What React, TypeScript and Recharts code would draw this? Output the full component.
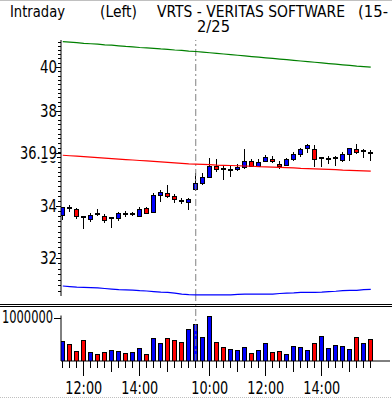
import React from 'react';
import { ComposedChart, Bar, Line, XAxis, YAxis, ReferenceLine } from 'recharts';

// 15-minute bars, two sessions
const times = [
  '11:15', '11:30', '11:45', '12:00', '12:15', '12:30', '12:45', '13:00', '13:15', '13:30',
  '13:45', '14:00', '14:15', '14:30', '14:45', '15:00', '15:15', '15:30', '15:45',
  '9:30', '9:45', '10:00', '10:15', '10:30', '10:45', '11:00', '11:15', '11:30', '11:45',
  '12:00', '12:15', '12:30', '12:45', '13:00', '13:15', '13:30', '13:45', '14:00', '14:15',
  '14:30', '14:45', '15:00', '15:15', '15:30', '15:45',
];

const opens = [
  33.63, 33.94, 33.89, 33.55, 33.5, 33.68, 33.6, 33.52, 33.54, 33.69,
  33.69, 33.62, 33.94, 33.78, 34.45, 34.54, 34.4, 34.2, 34.17,
  34.67, 34.94, 35.19, 35.63, 35.51, 35.47, 35.5, 35.6, 35.85, 35.64,
  35.85, 35.93, 35.73, 35.66, 35.92, 36.14, 36.37, 36.33, 35.96, 35.92,
  35.95, 35.88, 36.14, 36.33, 36.27, 36.19,
];
const highs = [
  33.97, 34.04, 33.93, 33.61, 33.72, 33.89, 33.68, 33.58, 33.77, 33.8,
  33.77, 33.98, 33.98, 34.54, 34.65, 34.84, 34.5, 34.31, 34.31,
  35.36, 35.36, 35.95, 35.91, 35.63, 35.63, 35.71, 36.33, 35.91, 35.91,
  36.09, 36.05, 35.84, 35.95, 36.2, 36.37, 36.56, 36.52, 36.02, 36.05,
  36.06, 36.23, 36.4, 36.55, 36.33, 36.3,
];
const lows = [
  33.45, 33.75, 33.49, 33.12, 33.38, 33.61, 33.35, 33.13, 33.42, 33.58,
  33.61, 33.56, 33.68, 33.72, 34.16, 34.31, 34.11, 34.08, 33.85,
  34.61, 34.85, 35.16, 35.4, 35.05, 35.16, 35.44, 35.5, 35.6, 35.6,
  35.79, 35.74, 35.49, 35.63, 35.85, 36.02, 36.17, 35.57, 35.59, 35.7,
  35.63, 35.81, 35.85, 36.12, 35.97, 35.85,
];
const closes = [
  33.95, 33.94, 33.61, 33.55, 33.65, 33.68, 33.46, 33.52, 33.72, 33.69,
  33.69, 33.9, 33.74, 34.43, 34.55, 34.42, 34.27, 34.2, 34.27,
  34.93, 35.16, 35.64, 35.5, 35.51, 35.47, 35.6, 35.85, 35.64, 35.81,
  35.99, 35.82, 35.62, 35.91, 36.13, 36.33, 36.5, 35.92, 35.96, 35.92,
  35.95, 36.12, 36.37, 36.2, 36.27, 36.19,
];

const upperBand = [
  41.2, 41.18, 41.15, 41.12, 41.1, 41.08, 41.05, 41.03, 41.0, 40.97,
  40.95, 40.92, 40.9, 40.88, 40.85, 40.83, 40.8, 40.78, 40.75,
  40.73, 40.7, 40.67, 40.64, 40.61, 40.58, 40.55, 40.52, 40.49, 40.46,
  40.43, 40.4, 40.37, 40.34, 40.31, 40.28, 40.25, 40.22, 40.19, 40.16,
  40.13, 40.1, 40.07, 40.04, 40.02, 39.99,
];
const midBand = [
  36.08, 36.06, 36.04, 36.02, 36.0, 35.98, 35.96, 35.94, 35.92, 35.9,
  35.88, 35.86, 35.84, 35.82, 35.8, 35.78, 35.76, 35.74, 35.72,
  35.71, 35.7, 35.69, 35.67, 35.66, 35.65, 35.64, 35.63, 35.62, 35.6,
  35.59, 35.58, 35.57, 35.56, 35.55, 35.53, 35.52, 35.51, 35.5, 35.49,
  35.48, 35.46, 35.45, 35.44, 35.43, 35.42,
];
const lowerBand = [
  30.97, 30.95, 30.93, 30.92, 30.91, 30.9, 30.88, 30.86, 30.84, 30.83,
  30.82, 30.8, 30.79, 30.77, 30.75, 30.74, 30.71, 30.68, 30.66,
  30.65, 30.65, 30.65, 30.65, 30.65, 30.65, 30.67, 30.68, 30.68, 30.68,
  30.68, 30.68, 30.7, 30.71, 30.72, 30.74, 30.74, 30.74, 30.75, 30.77,
  30.78, 30.8, 30.81, 30.81, 30.84, 30.85,
];

const volumes = [
  460000, 390000, 230000, 480000, 210000, 160000, 210000, 250000, 230000, 190000,
  210000, 300000, 160000, 530000, 420000, 530000, 480000, 440000, 740000,
  850000, 550000, 1040000, 440000, 320000, 280000, 250000, 320000, 190000, 250000,
  420000, 210000, 230000, 160000, 350000, 320000, 250000, 420000, 580000, 300000,
  370000, 350000, 280000, 550000, 420000, 510000,
];
const volColors = [
  'b', 'r', 'r', 'r', 'b', 'r', 'r', 'b', 'b', 'r',
  'b', 'b', 'r', 'b', 'b', 'r', 'r', 'r', 'b',
  'b', 'b', 'b', 'r', 'r', 'b', 'b', 'b', 'r', 'b',
  'b', 'r', 'r', 'b', 'b', 'b', 'b', 'r', 'b', 'b',
  'b', 'b', 'b', 'r', 'b', 'r',
];

const majorPriceTicks = [32, 34, 36, 38, 40];
const lastPrice = 36.19;
const volumeTicks = [1000000];
const sessionStart = 19;

const FONT = "'Liberation Sans Narrow', 'DejaVu Sans Condensed', 'Liberation Sans', sans-serif";
const BLUE = '#0000ff';
const RED = '#ff0000';
const X_DOMAIN: [number, number] = [-0.25, 46.75];
const VOL_TOP = 296;

const rows = times.map((t, i) => ({
  i,
  t,
  o: opens[i],
  h: highs[i],
  l: lows[i],
  c: closes[i],
  range: [lows[i], highs[i]],
  upper: upperBand[i],
  mid: midBand[i],
  lower: lowerBand[i],
  vol: volumes[i],
  vc: volColors[i],
}));

const minorTicks: number[] = [];
for (let k = 308; k <= 412; k += 2) minorTicks.push(k / 10);
const priceTicks = [...minorTicks, lastPrice];
const timeTicks = rows.map((r) => r.i);

const Candle = (props: any) => {
  const { x, y, width, height, payload } = props;
  if (x == null || y == null) return null;
  const { o, h, l, c } = payload;
  const span = Math.log(h) - Math.log(l);
  // position within the high-low bar on the log price scale
  const py = (v: number) => y + (span > 0 ? (height * (Math.log(h) - Math.log(v))) / span : 0);
  const left = Math.round(x + width / 2 - 2.5);
  const wx = left + 2.5;
  const top = Math.round(py(Math.max(o, c)));
  const bot = Math.round(py(Math.min(o, c)));
  return (
    <g shapeRendering="crispEdges">
      <line x1={wx} x2={wx} y1={Math.round(y)} y2={Math.round(y + height)} stroke="#000" />
      {c === o ? (
        <rect x={left} y={top - 1} width={5} height={2} fill="#000" />
      ) : (
        <rect
          x={left + 0.5}
          y={top + 0.5}
          width={4}
          height={Math.max(1, bot - top)}
          fill={c > o ? BLUE : RED}
          stroke="#000"
        />
      )}
    </g>
  );
};

const VolBar = (props: any) => {
  const { x, y, width, height, payload } = props;
  if (x == null || y == null) return null;
  const left = Math.round(x + width / 2 - 2.5);
  const top = Math.round(y);
  const bot = Math.round(y + height);
  return (
    <rect
      shapeRendering="crispEdges"
      x={left + 0.5}
      y={top + 0.5}
      width={4}
      height={Math.max(1, bot - top)}
      fill={payload.vc === 'r' ? RED : BLUE}
      stroke="#000"
    />
  );
};

const PriceTick = (props: any) => {
  const { y, payload } = props;
  const v = payload.value;
  const ty = Math.round(y) + 0.5;
  if (v === lastPrice) {
    return (
      <g>
        <rect x={17} y={y - 7} width={40} height={15.5} fill="#fff" />
        <line x1={56} x2={61} y1={ty} y2={ty} stroke="#000" shapeRendering="crispEdges" />
        <text x={57} y={y + 6} textAnchor="end" fontFamily={FONT} fontSize={17} fill="#000"
          textLength={37} lengthAdjust="spacingAndGlyphs">
          {v.toFixed(2)}
        </text>
      </g>
    );
  }
  if (majorPriceTicks.includes(v)) {
    return (
      <g>
        <line x1={56} x2={61} y1={ty} y2={ty} stroke="#000" shapeRendering="crispEdges" />
        <text x={57} y={y + 6} textAnchor="end" fontFamily={FONT} fontSize={17} fill="#000"
          textLength={17} lengthAdjust="spacingAndGlyphs">
          {String(v)}
        </text>
      </g>
    );
  }
  return <line x1={58} x2={61} y1={ty} y2={ty} stroke="#000" shapeRendering="crispEdges" />;
};

const VolTick = (props: any) => {
  const { y, payload } = props;
  const ty = Math.round(y) + 0.5;
  return (
    <g>
      <line x1={54} x2={61} y1={ty} y2={ty} stroke="#000" shapeRendering="crispEdges" />
      <text x={53} y={y + 5.5} textAnchor="end" fontFamily={FONT} fontSize={17} fill="#000"
        textLength={51} lengthAdjust="spacingAndGlyphs">
        {String(payload.value)}
      </text>
    </g>
  );
};

const TimeTick = (props: any) => {
  const { x, payload } = props;
  const t = times[payload.value];
  if (!t) return null;
  const [hh, mm] = t.split(':');
  const onHour = mm === '00';
  const labeled = onHour && Number(hh) % 2 === 0;
  const len = labeled ? 15 : onHour ? 11 : 7;
  const base = 361 - VOL_TOP;
  const px = Math.floor(x) + 0.5;
  return (
    <g>
      <line x1={px} x2={px} y1={base} y2={base + len} stroke="#000" shapeRendering="crispEdges" />
      {labeled && (
        <text x={x} y={394 - VOL_TOP} textAnchor="middle" fontFamily={FONT} fontSize={17} fill="#000"
          textLength={37} lengthAdjust="spacingAndGlyphs">
          {t}
        </text>
      )}
    </g>
  );
};

const title = (x: number, y: number, w: number, s: string) => (
  <text x={x} y={y} fontFamily={FONT} fontSize={16.5} fill="#000" textLength={w} lengthAdjust="spacingAndGlyphs">
    {s}
  </text>
);

export default function App() {
  return (
    <div style={{ position: 'relative', width: 392, height: 398, background: '#fff', overflow: 'hidden' }}>
      <style>{'body{margin:0}'}</style>
      <div style={{ position: 'absolute', left: 0, top: 0 }}>
        <ComposedChart width={392} height={VOL_TOP} data={rows} margin={{ top: 40, right: 2, bottom: 0, left: 0 }}>
          <XAxis type="number" dataKey="i" domain={X_DOMAIN} allowDataOverflow hide />
          <YAxis
            scale="log"
            domain={[30.61, 41.28]}
            allowDataOverflow
            ticks={priceTicks}
            interval={0}
            tickLine={false}
            axisLine={{ stroke: '#000' }}
            width={61}
            tick={(p: any) => <PriceTick {...p} />}
          />
          <ReferenceLine x={sessionStart} stroke="#808080" strokeDasharray="7 3 2 3" />
          <Line dataKey="upper" stroke="#008000" strokeWidth={1.2} dot={false} isAnimationActive={false} />
          <Line dataKey="mid" stroke={RED} strokeWidth={1.2} dot={false} isAnimationActive={false} />
          <Line dataKey="lower" stroke={BLUE} strokeWidth={1.2} dot={false} isAnimationActive={false} />
          <Bar dataKey="range" barSize={5} shape={(p: any) => <Candle {...p} />} isAnimationActive={false} />
        </ComposedChart>
      </div>
      <div style={{ position: 'absolute', left: 0, top: VOL_TOP }}>
        <ComposedChart width={392} height={398 - VOL_TOP} data={rows} margin={{ top: 19.5, right: 2, bottom: 0, left: 0 }}>
          <XAxis
            type="number"
            dataKey="i"
            domain={X_DOMAIN}
            allowDataOverflow
            ticks={timeTicks}
            interval={0}
            tickLine={false}
            axisLine={{ stroke: '#000' }}
            height={37}
            tick={(p: any) => <TimeTick {...p} />}
          />
          <YAxis
            domain={[0, 1050000]}
            allowDataOverflow
            ticks={volumeTicks}
            interval={0}
            tickLine={false}
            axisLine={{ stroke: '#000' }}
            width={61}
            tick={(p: any) => <VolTick {...p} />}
          />
          <ReferenceLine
            segment={[{ x: sessionStart, y: 0 }, { x: sessionStart, y: 1500000 }]}
            ifOverflow="visible"
            stroke="#808080"
            strokeDasharray="7 3 2 3"
          />
          <Bar dataKey="vol" barSize={5} shape={(p: any) => <VolBar {...p} />} isAnimationActive={false} />
        </ComposedChart>
      </div>
      <svg width={392} height={398} style={{ position: 'absolute', left: 0, top: 0, pointerEvents: 'none' }}>
        <line x1={0} x2={392} y1={0.5} y2={0.5} stroke="#c0c0c0" />
        {title(10, 17, 55, 'Intraday')}
        {title(100, 17, 37, '(Left)')}
        {title(157, 17, 188, 'VRTS - VERITAS SOFTWARE')}
        {title(358, 17, 30, '(15-')}
        {title(197, 32, 33, '2/25')}
        <line x1={0} x2={392} y1={304.5} y2={304.5} stroke="#000" shapeRendering="crispEdges" />
        <line x1={0} x2={392} y1={306.5} y2={306.5} stroke="#000" shapeRendering="crispEdges" />
        <line x1={0} x2={392} y1={397.5} y2={397.5} stroke="#c0c0c0" strokeDasharray="1 1" />
      </svg>
    </div>
  );
}
